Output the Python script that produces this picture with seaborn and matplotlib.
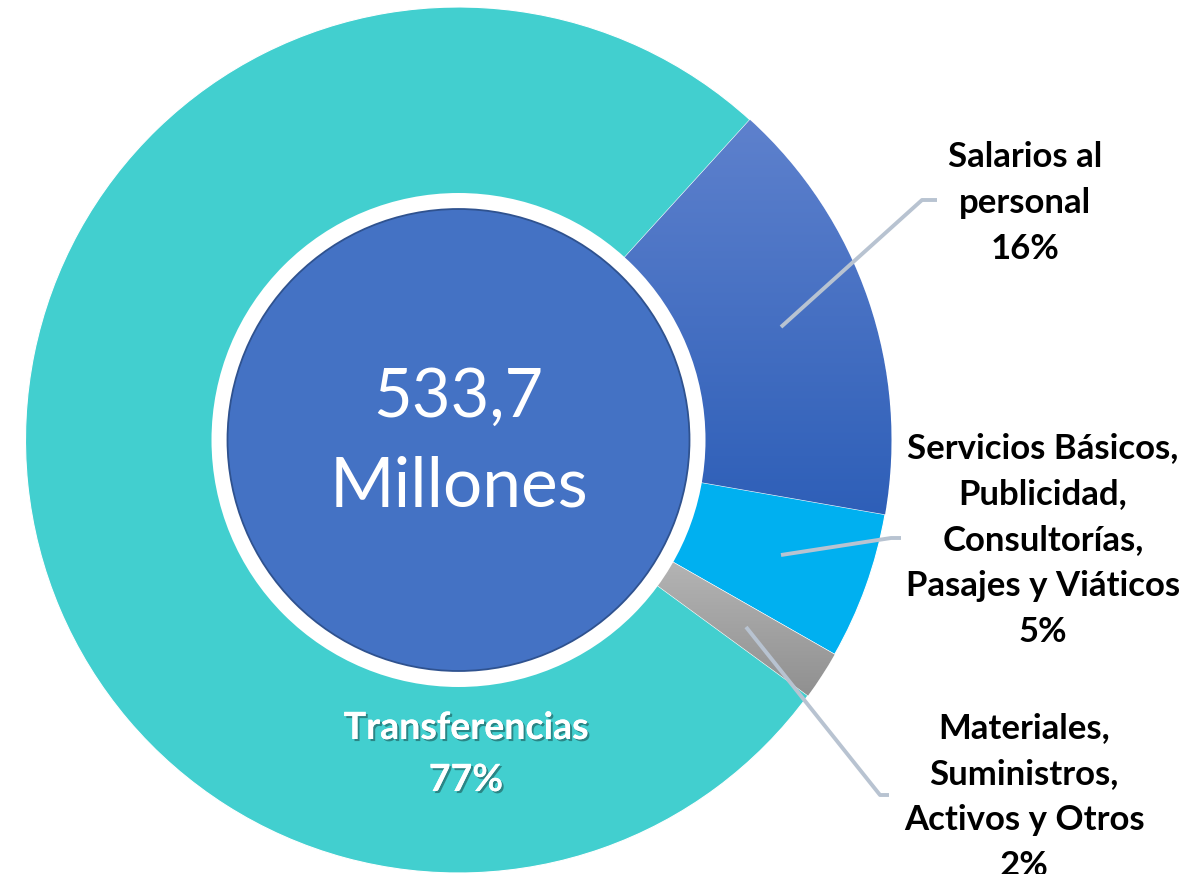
import numpy as np
import matplotlib
matplotlib.use("Agg")
import matplotlib.pyplot as plt
import matplotlib.patheffects as pe
from matplotlib.patches import Circle
from matplotlib.colors import LinearSegmentedColormap
import seaborn as sns

# ---- data ----
categories = ["Salarios al\npersonal",
              "Servicios Básicos,\nPublicidad,\nConsultorías,\nPasajes y Viáticos",
              "Materiales,\nSuministros,\nActivos y Otros",
              "Transferencias"]
shares = [16.0, 5.5, 1.8, 76.7]
pct_labels = ["16%", "5%", "2%", "77%"]
total_text = "533,7\nMillones"

sns.set_theme(style="white")
plt.rcParams['font.family'] = ['Lato', 'DejaVu Sans']

W, H = 1198, 874
fig = plt.figure(figsize=(W / 100, H / 100), dpi=100)
ax = fig.add_axes([0, 0, 1, 1])

def Y(y):
    return H - y

cx, cy = 458.5, Y(440)
R = 433

colors = sns.color_palette(["#3A67C0", "#00B0F0", "#A6A6A6", "#42CFCF"])
wedges, _ = ax.pie(shares, colors=colors, startangle=47.7, counterclock=False,
                   center=(cx, cy), radius=R,
                   wedgeprops=dict(linewidth=0.8, edgecolor="white"))

# gradients
def grad(wedge, top_col, bot_col, y_top, y_bot):
    cmap = LinearSegmentedColormap.from_list("g", [top_col, bot_col])
    img = np.linspace(0, 1, 256).reshape(-1, 1)
    im = ax.imshow(img, cmap=cmap, extent=(cx - R, cx + R, Y(y_bot), Y(y_top)),
                   origin="upper", aspect="auto", zorder=wedge.get_zorder() + 0.1)
    im.set_clip_path(wedge)

grad(wedges[0], "#5E81CD", "#2E5FB8", 118, 515)
grad(wedges[2], "#B4B4B4", "#8F8F8F", 560, 700)

# center circle
ax.add_patch(Circle((cx, cy), 247, fc="white", ec="none", zorder=5))
ax.add_patch(Circle((cx, cy), 231, fc="#4472C4", ec="#2F528F", lw=1.3, zorder=6))
ax.text(458, Y(398), total_text.split("\n")[0], ha="center", va="center",
        color="white", fontsize=48, zorder=7)
ax.text(459, Y(487), total_text.split("\n")[1], ha="center", va="center",
        color="white", fontsize=50, zorder=7)

# Transferencias label
shadow = [pe.withSimplePatchShadow(offset=(1.5, -1.5), shadow_rgbFace="black", alpha=0.35),
          pe.Normal()]
ax.text(466, Y(728), categories[3], ha="center", va="center", color="white",
        fontsize=27, fontweight="bold", zorder=7, path_effects=shadow)
ax.text(466, Y(780), pct_labels[3], ha="center", va="center", color="white",
        fontsize=27, fontweight="bold", zorder=7, path_effects=shadow)

# outside labels
lab_pos = [(1025, 157), (1043, 448), (1024, 728)]
for i, (lx, ly) in enumerate(lab_pos):
    lines = categories[i].split("\n") + [pct_labels[i]]
    for k, t in enumerate(lines):
        ax.text(lx, Y(ly + k * 46), t, ha="center", va="center", color="black",
                fontsize=25, fontweight="bold", zorder=7)

# leader lines
lc = "#B8C3D1"
leaders = [[(781, 327), (922, 200), (937, 200)],
           [(781, 555), (891, 538), (901, 538)],
           [(746, 627), (880, 795), (889, 795)]]
for pts in leaders:
    xs = [p[0] for p in pts]
    ys = [Y(p[1]) for p in pts]
    ax.plot(xs, ys, color=lc, lw=2.8, solid_capstyle="butt", zorder=8)

ax.set_xlim(0, W)
ax.set_ylim(0, H)
ax.set_aspect("auto")
ax.axis("off")
fig.savefig("out.png", dpi=100)
